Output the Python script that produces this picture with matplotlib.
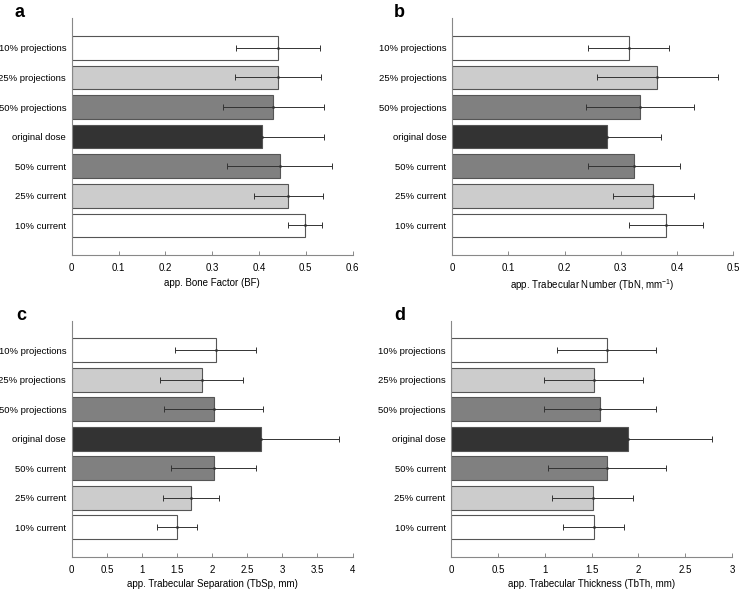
import numpy as np
import matplotlib.pyplot as plt

plt.rcParams['font.family'] = ['Liberation Sans', 'DejaVu Sans']
plt.rcParams['mathtext.fontset'] = 'custom'
plt.rcParams['mathtext.rm'] = 'Liberation Sans'

labels = ['10% projections', '25% projections', '50% projections', 'original dose',
          '50% current', '25% current', '10% current']
colors = ['white', '#cccccc', '#808080', '#333333', '#808080', '#cccccc', 'white']

bf_mean = [0.441, 0.441, 0.431, 0.406, 0.444, 0.463, 0.499]
bf_sd = [0.090, 0.092, 0.107, 0.132, 0.113, 0.074, 0.036]

tbn_mean = [0.314, 0.365, 0.334, 0.276, 0.323, 0.358, 0.380]
tbn_sd = [0.072, 0.108, 0.096, 0.095, 0.082, 0.072, 0.066]

tbsp_mean = [2.05, 1.85, 2.02, 2.70, 2.02, 1.70, 1.50]
tbsp_sd = [0.575, 0.59, 0.70, 1.10, 0.60, 0.40, 0.28]

tbth_mean = [1.66, 1.52, 1.59, 1.89, 1.66, 1.51, 1.52]
tbth_sd = [0.53, 0.53, 0.60, 0.89, 0.63, 0.43, 0.33]

panels = [
    ('a', bf_mean, bf_sd, 'app. Bone Factor (BF)', 0.6, np.arange(0, 0.61, 0.1),
     [0.0968, 0.567, 0.379, 0.402], (0.019, 0.971)),
    ('b', tbn_mean, tbn_sd, r'app. Trabecular Number (TbN, mm$^{\mathrm{-1}}$)', 0.5, np.arange(0, 0.51, 0.1),
     [0.610, 0.567, 0.3796, 0.402], (0.532, 0.971)),
    ('c', tbsp_mean, tbsp_sd, 'app. Trabecular Separation (TbSp, mm)', 4, np.arange(0, 4.01, 0.5),
     [0.0968, 0.0548, 0.379, 0.4007], (0.022, 0.457)),
    ('d', tbth_mean, tbth_sd, 'app. Trabecular Thickness (TbTh, mm)', 3, np.arange(0, 3.01, 0.5),
     [0.609, 0.0548, 0.379, 0.4007], (0.532, 0.457)),
]

fig = plt.figure(figsize=(7.41, 5.89), dpi=100)

for letter, mean, sd, xlabel, xmax, ticks, rect, lpos in panels:
    ax = fig.add_axes(rect)
    ypos = np.arange(len(labels), 0, -1)
    ax.barh(ypos, mean, height=0.8, color=colors, edgecolor='#555555', linewidth=0.8)
    ax.errorbar(mean, ypos, xerr=sd, fmt='.', color='#333333', markersize=2,
                elinewidth=0.7, capsize=2, capthick=0.7)
    ax.set_xlim(0, xmax)
    ax.set_ylim(0, 8)
    ax.set_xticks(ticks)
    ax.set_xticklabels(['%g' % t for t in ticks])
    ax.set_yticks(ypos)
    ax.set_yticklabels(labels)
    ax.tick_params(axis='y', length=0, labelsize=6.8, pad=4)
    ax.tick_params(axis='x', direction='in', length=3, width=0.6, color='#777777',
                   labelsize=7, pad=6)
    ax.set_xlabel(xlabel, fontsize=7, labelpad=3)
    for side in ['top', 'right']:
        ax.spines[side].set_visible(False)
    for side in ['left', 'bottom']:
        ax.spines[side].set_color('#888888')
        ax.spines[side].set_linewidth(0.8)
    fig.text(lpos[0], lpos[1], letter, fontsize=13, fontweight='bold',
             va='baseline', ha='left')

fig.savefig('out.png', dpi=100)
